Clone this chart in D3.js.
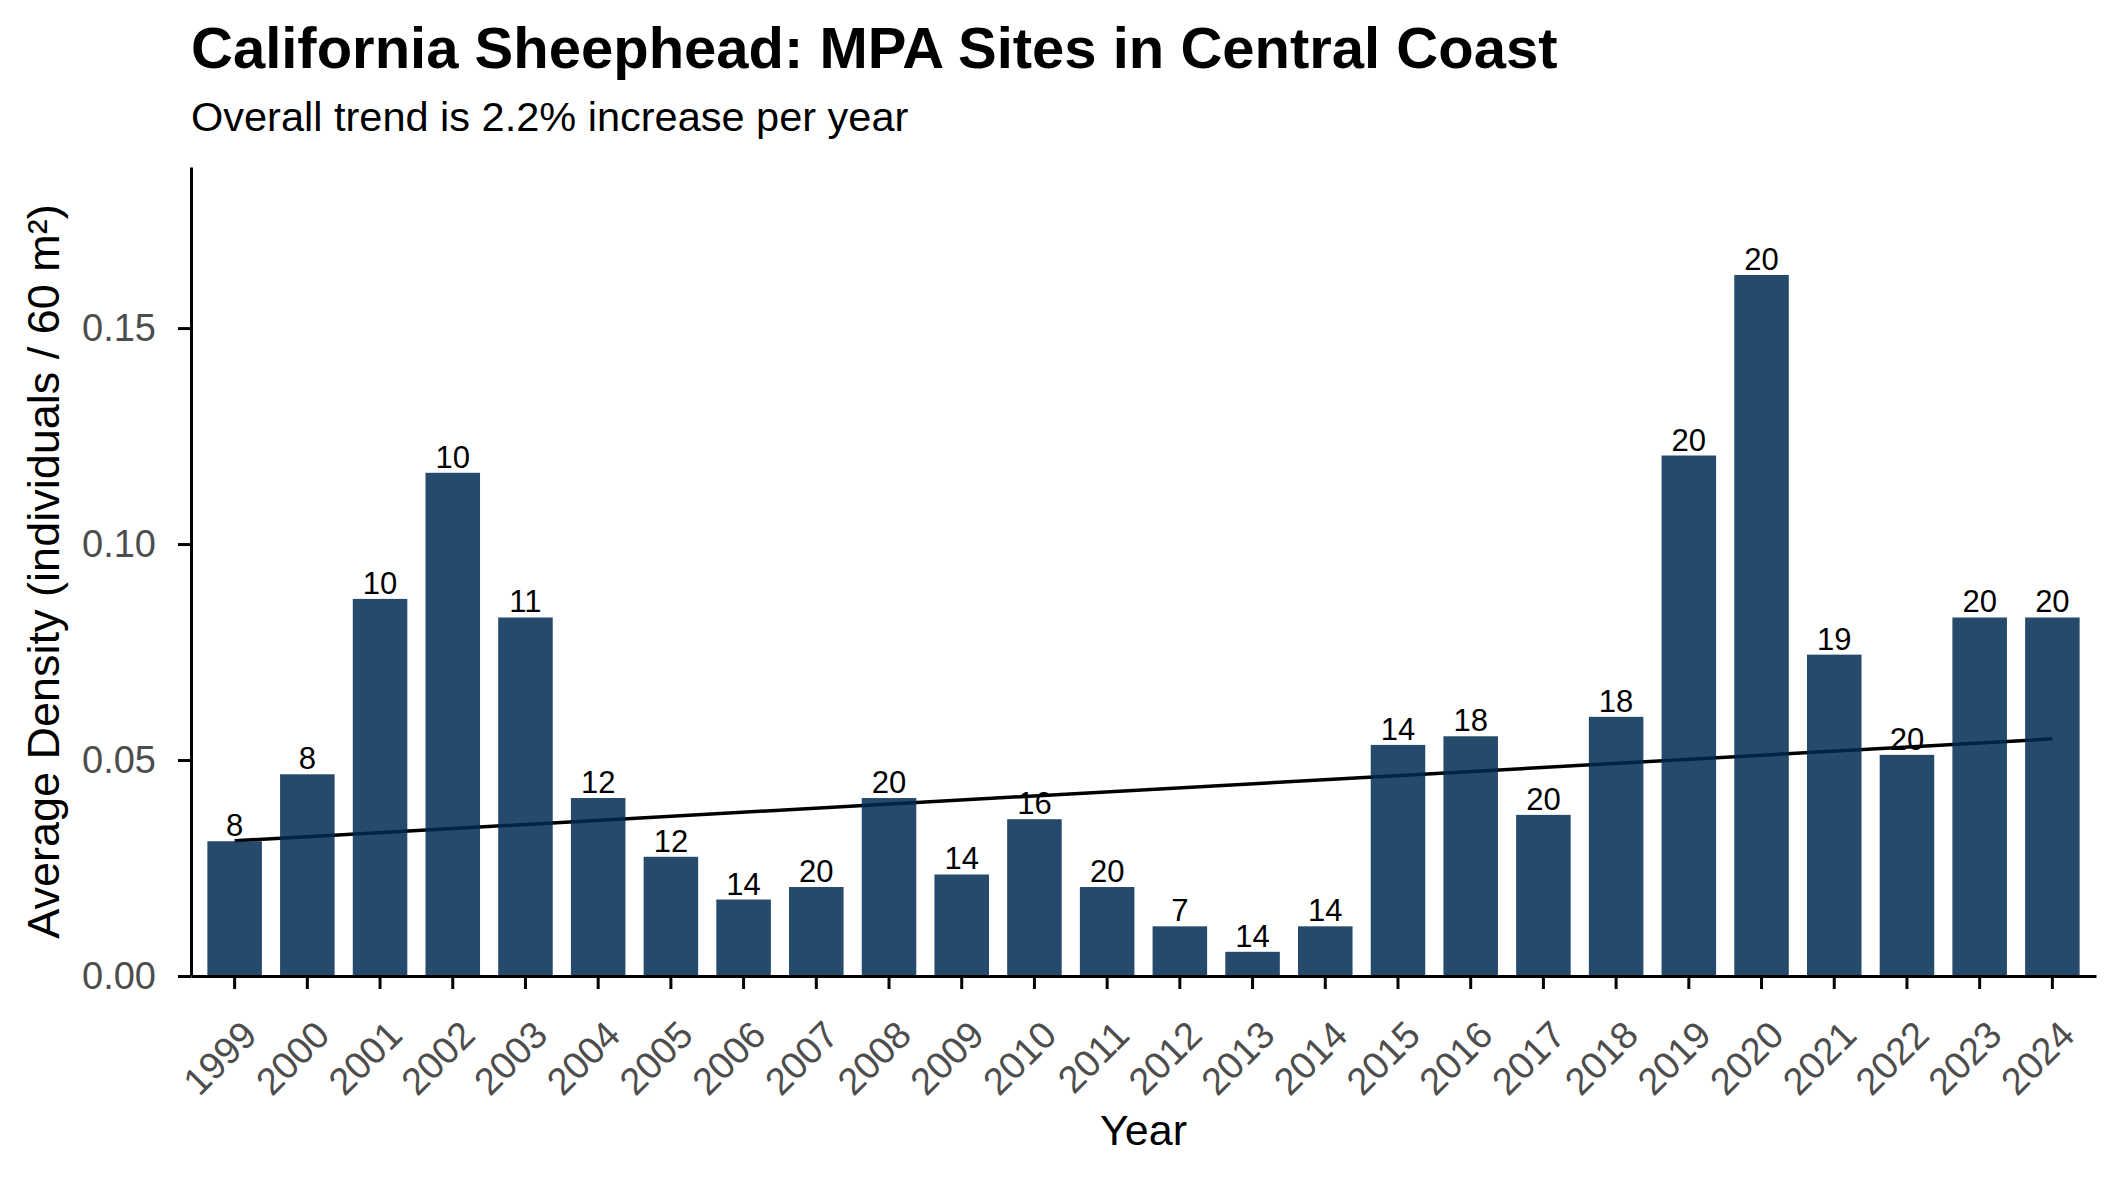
<!DOCTYPE html>
<html>
<head>
<meta charset="utf-8">
<script src="https://cdn.jsdelivr.net/npm/d3@7"></script>
<style>
    body { margin: 0; background: #fff; }
    text { font-family: "Liberation Sans", Arial, Helvetica, sans-serif; }
</style>
</head>
<body>
<div id="chart"></div>
<script>

// data
let years = [1999, 2000, 2001, 2002, 2003, 2004, 2005, 2006, 2007, 2008, 2009, 2010, 2011,
    2012, 2013, 2014, 2015, 2016, 2017, 2018, 2019, 2020, 2021, 2022, 2023, 2024];
let density = [0.0312, 0.0467, 0.0873, 0.1165, 0.0830, 0.0412, 0.0276, 0.0177, 0.0206, 0.0412,
    0.0235, 0.0363, 0.0206, 0.0115, 0.0056, 0.0115, 0.0535, 0.0555, 0.0373, 0.0600,
    0.1205, 0.1623, 0.0744, 0.0512, 0.0830, 0.0830];
let siteCounts = [8, 8, 10, 10, 11, 12, 12, 14, 20, 20, 14, 16, 20, 7, 14, 14, 14, 18, 20, 18,
    20, 20, 19, 20, 20, 20];
let trendYears = [1999, 2024];
let trendValues = [0.0313, 0.0549];
let yTicks = [0, 0.05, 0.10, 0.15];

let titleText = "California Sheephead: MPA Sites in Central Coast";
let subtitleText = "Overall trend is 2.2% increase per year";

function drawChart() {

    let svgWidth = 2125;
    let svgHeight = 1181;

    // panel edges
    let margin = {
        top: 167,
        right: 29,
        bottom: 205,
        left: 191
    };

    let width = svgWidth - margin.left - margin.right;
    let height = svgHeight - margin.top - margin.bottom;

    let svg = d3.select("#chart")
        .append("svg")
        .attr("width", svgWidth)
        .attr("height", svgHeight);

    let chartGroup = svg.append("g")
        .attr("transform", `translate(${margin.left}, ${margin.top})`);

    let rows = years.map((y, i) => ({ year: y, value: density[i], n: siteCounts[i] }));

    // Scales
    // ==============================
    let xBandScale = d3.scaleBand()
        .domain(years)
        .range([0, width])
        .paddingInner(0.25)
        .paddingOuter(0.225);

    let yLinearScale = d3.scaleLinear()
        .domain([0, d3.max(density) * 1.154])
        .range([height, 0]);

    // Trend line (sits under the bars)
    // ==============================
    let trendLine = d3.line()
        .x(d => xBandScale(d[0]) + xBandScale.bandwidth() / 2)
        .y(d => yLinearScale(d[1]));

    chartGroup.append("path")
        .datum(trendYears.map((y, i) => [y, trendValues[i]]))
        .attr("d", trendLine)
        .attr("fill", "none")
        .attr("stroke", "#000")
        .attr("stroke-width", 3.5);

    // Bars
    // ==============================
    chartGroup.selectAll("rect.bar")
        .data(rows)
        .enter()
        .append("rect")
        .attr("class", "bar")
        .attr("x", d => xBandScale(d.year))
        .attr("y", d => yLinearScale(d.value))
        .attr("width", xBandScale.bandwidth())
        .attr("height", d => height - yLinearScale(d.value))
        .attr("fill", "#002a51")
        .attr("fill-opacity", 0.85);

    // site count labels
    chartGroup.selectAll("text.count")
        .data(rows)
        .enter()
        .append("text")
        .attr("class", "count")
        .attr("x", d => xBandScale(d.year) + xBandScale.bandwidth() / 2)
        .attr("y", d => yLinearScale(d.value) - 5)
        .attr("text-anchor", "middle")
        .attr("font-size", 31)
        .attr("fill", "#000")
        .text(d => d.n);

    // Axes
    // ==============================
    let bottomAxis = d3.axisBottom(xBandScale)
        .tickSizeInner(13)
        .tickSizeOuter(0)
        .tickPadding(0);

    let xAxis = chartGroup.append("g")
        .attr("transform", `translate(0, ${height})`)
        .call(bottomAxis);

    xAxis.select(".domain").attr("stroke", "#000").attr("stroke-width", 3);
    xAxis.selectAll(".tick line").attr("stroke", "#000").attr("stroke-width", 3);
    xAxis.selectAll(".tick text")
        .attr("font-size", 38)
        .attr("fill", "#4d4d4d")
        .attr("text-anchor", "end")
        .attr("y", 0)
        .attr("dy", "0.72em")
        .attr("transform", "translate(5, 42) rotate(-45)");

    let leftAxis = d3.axisLeft(yLinearScale)
        .tickValues(yTicks)
        .tickFormat(d3.format(".2f"))
        .tickSizeInner(13)
        .tickSizeOuter(0)
        .tickPadding(22);

    let yAxis = chartGroup.append("g")
        .call(leftAxis);

    yAxis.select(".domain").attr("stroke", "#000").attr("stroke-width", 3);
    yAxis.selectAll(".tick line").attr("stroke", "#000").attr("stroke-width", 3);
    yAxis.selectAll(".tick text")
        .attr("font-size", 38)
        .attr("fill", "#4d4d4d");

    // Axis titles
    // ==============================
    chartGroup.append("text")
        .attr("transform", `translate(${width / 2}, ${height + 169})`)
        .attr("text-anchor", "middle")
        .attr("font-size", 43)
        .attr("fill", "#000")
        .text("Year");

    chartGroup.append("text")
        .attr("transform", `translate(${59 - margin.left}, ${height / 2}) rotate(-90)`)
        .attr("text-anchor", "middle")
        .attr("font-size", 45)
        .attr("fill", "#000")
        .text("Average Density (individuals / 60 m²)");

    // Title block
    // ==============================
    svg.append("text")
        .attr("x", margin.left)
        .attr("y", 68)
        .attr("font-size", 58)
        .attr("font-weight", "bold")
        .attr("fill", "#000")
        .text(titleText);

    svg.append("text")
        .attr("x", margin.left)
        .attr("y", 131)
        .attr("font-size", 41.5)
        .attr("fill", "#000")
        .text(subtitleText);
}

drawChart();
</script>
</body>
</html>
